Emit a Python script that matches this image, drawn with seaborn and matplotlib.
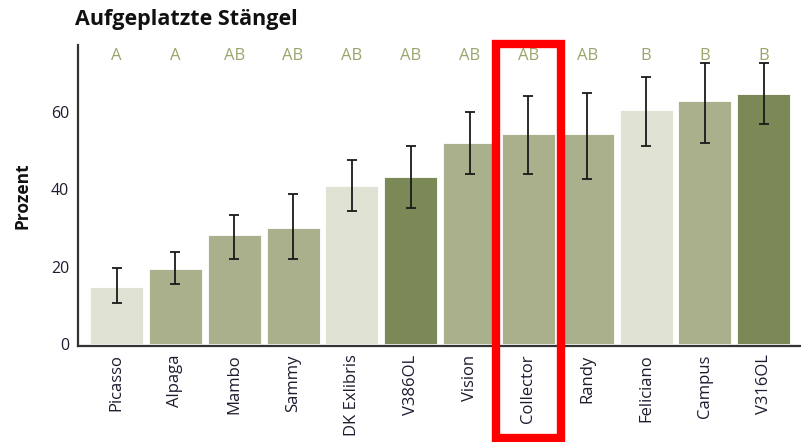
import numpy as np
import pandas as pd
import matplotlib
matplotlib.use('Agg')
import matplotlib.pyplot as plt
import matplotlib.transforms as mtransforms
from matplotlib.patches import Rectangle
import seaborn as sns

# Values
sorten = ['Picasso', 'Alpaga', 'Mambo', 'Sammy', 'DK Exlibris', 'V386OL',
          'Vision', 'Collector', 'Randy', 'Feliciano', 'Campus', 'V316OL']
prozent = [14.8, 19.5, 28.3, 30.1, 40.8, 43.1, 52.0, 54.3, 54.3, 60.5, 62.9, 64.7]
fehler_oben = [19.7, 23.9, 33.5, 38.7, 47.5, 51.2, 60.0, 64.2, 65.0, 69.0, 72.7, 72.7]
fehler_unten = [10.6, 15.6, 22.0, 22.0, 34.3, 35.3, 43.9, 43.9, 42.6, 51.2, 52.0, 57.0]
gruppen = ['A', 'A', 'AB', 'AB', 'AB', 'AB', 'AB', 'AB', 'AB', 'B', 'B', 'B']
stufe = ['hell', 'mittel', 'mittel', 'mittel', 'hell', 'dunkel',
         'mittel', 'mittel', 'mittel', 'hell', 'mittel', 'dunkel']
markiert = 'Collector'

farben = {'hell': '#E2E4D0', 'mittel': '#ADB685', 'dunkel': '#7E914D'}

df = pd.DataFrame({'Sorte': sorten, 'Prozent': prozent, 'Stufe': stufe})

sns.set_style('white')
plt.rcParams['font.family'] = ['Open Sans', 'DejaVu Sans']

fig = plt.figure(figsize=(8.01, 4.42), dpi=100)
ax = fig.add_axes([0.097, 0.217, 0.902, 0.681])

sns.barplot(data=df, x='Sorte', y='Prozent', hue='Stufe', palette=farben,
            dodge=False, width=0.9, legend=False, ax=ax, edgecolor='white', linewidth=0.6)

pos = np.arange(len(sorten))
werte = np.array(prozent)
yerr = [werte - np.array(fehler_unten), np.array(fehler_oben) - werte]
ax.errorbar(pos, werte, yerr=yerr, fmt='none', ecolor='#1a1a1a',
            elinewidth=1.3, capsize=3.5, capthick=1.3)

for i, g in enumerate(gruppen):
    ax.text(i, 74.5, g, ha='center', va='center', fontsize=12,
            color='#98A66C')

ax.set_xlim(-0.66, 11.62)
ax.set_ylim(-0.5, 77.3)
ax.set_yticks([0, 20, 40, 60])
ax.tick_params(axis='both', length=0, labelsize=11.5, colors='#1c1c30', pad=6)
plt.setp(ax.get_xticklabels(), rotation=90, fontsize=12)
ax.set_xlabel('')
ax.set_ylabel('Prozent', fontsize=12.5, fontweight='bold', color='#111111', labelpad=14)

for s in ['top', 'right']:
    ax.spines[s].set_visible(False)
for s in ['left', 'bottom']:
    ax.spines[s].set_color('#333333')
    ax.spines[s].set_linewidth(1.6)

fig.text(0.094, 0.957, 'Aufgeplatzte Stängel', fontsize=15.5, fontweight='bold',
         color='#111111', ha='left', va='center')

# red highlight frame around the marked variety
k = sorten.index(markiert)
trans = mtransforms.blended_transform_factory(ax.transData, fig.transFigure)
rect = Rectangle((k - 0.55, 0.01), 1.1, 0.89, transform=trans, fill=False,
                 edgecolor='#FF0000', linewidth=6, clip_on=False)
fig.add_artist(rect)

fig.savefig('out.png', dpi=100)
